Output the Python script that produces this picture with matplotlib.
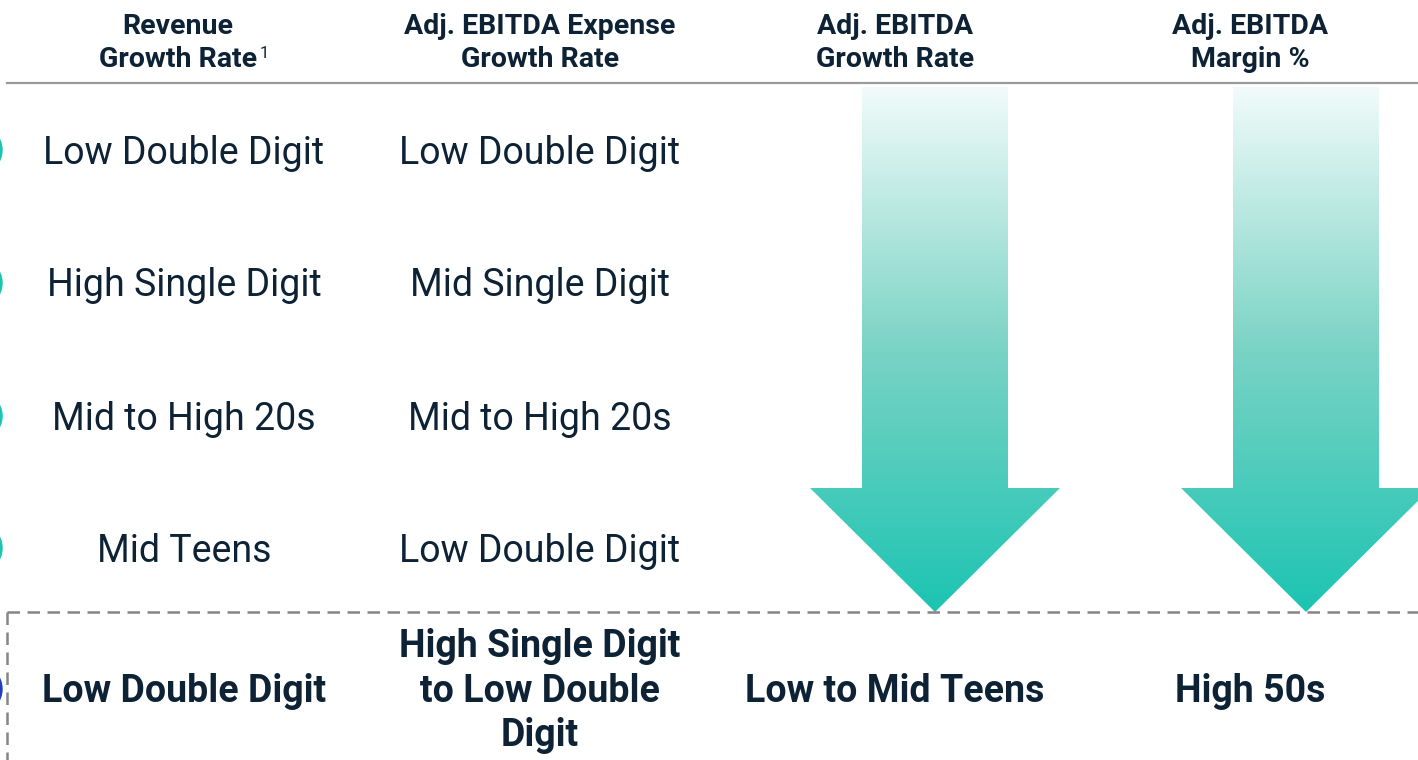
import numpy as np
import matplotlib
matplotlib.use('Agg')
import matplotlib.pyplot as plt
from matplotlib.patches import Polygon, Circle
from matplotlib.colors import LinearSegmentedColormap

plt.rcParams['font.family'] = ['Roboto', 'DejaVu Sans']

# table content
headers = ['Revenue\nGrowth Rate', 'Adj. EBITDA Expense\nGrowth Rate',
           'Adj. EBITDA\nGrowth Rate', 'Adj. EBITDA\nMargin %']
revenue_rows = ['Low Double Digit', 'High Single Digit', 'Mid to High 20s', 'Mid Teens']
expense_rows = ['Low Double Digit', 'Mid Single Digit', 'Mid to High 20s', 'Low Double Digit']
outlook = ['Low Double Digit', 'High Single Digit\nto Low Double\nDigit',
           'Low to Mid Teens', 'High 50s']
marker_colors = ['#1cc4b2', '#1cc4b2', '#1cc4b2', '#1cc4b2', '#1f3fbf']

W, H = 1418, 760
navy = '#0d2235'
col_x = [184, 540, 895, 1250]
arrow_x = [935, 1306]
row_y = [150, 283, 416, 548]
out_y = 689

fig = plt.figure(figsize=(W / 100, H / 100), dpi=100)
ax = fig.add_axes([0, 0, 1, 1])
ax.set_xlim(0, W)
ax.set_ylim(H, 0)
ax.axis('off')

# headers
for i, (x, h) in enumerate(zip(col_x, headers)):
    if i == 0:
        x = 178
    ax.text(x, 43, h, ha='center', va='center', fontsize=20.5, fontweight='bold',
            color=navy, linespacing=1.3)
ax.text(260, 54, '1', ha='left', va='center', fontsize=12, color=navy)
ax.plot([7, W], [83, 83], color='#9a9a9a', lw=1.6)

# body rows
for y, a, b in zip(row_y, revenue_rows, expense_rows):
    ax.text(col_x[0], y + 3, a, ha='center', va='center', fontsize=27, color=navy)
    ax.text(col_x[1], y + 3, b, ha='center', va='center', fontsize=27, color=navy)

# left edge markers
for y, c in zip(row_y + [out_y], marker_colors):
    ax.add_patch(Circle((-23, y), 25, color=c, clip_on=True))

# gradient arrows
cmap = LinearSegmentedColormap.from_list('teal', ['#f1fbfa', '#7ad3c5', '#1cc4b2'])
grad = np.linspace(0, 1, 256).reshape(-1, 1)
for cx in arrow_x:
    pts = [(cx - 73, 87), (cx + 73, 87), (cx + 73, 488), (cx + 125, 488),
           (cx, 612), (cx - 125, 488), (cx - 73, 488)]
    poly = Polygon(pts, closed=True, facecolor='none', edgecolor='none')
    ax.add_patch(poly)
    im = ax.imshow(grad, cmap=cmap, aspect='auto',
                   extent=[cx - 126, cx + 126, 612, 87], zorder=1)
    im.set_clip_path(poly)
ax.set_xlim(0, W)
ax.set_ylim(H, 0)

# dashed outlook box
ax.plot([7, W], [612, 612], color='#858585', lw=1.8, ls=(0, (5, 3)))
ax.plot([7, 7], [612, H], color='#858585', lw=1.8, ls=(0, (5, 3)))

# outlook row
for x, t in zip(col_x, outlook):
    ax.text(x, out_y + 2, t, ha='center', va='center', fontsize=27, fontweight='bold',
            color=navy, linespacing=1.25)

fig.savefig('out.png', dpi=100)
